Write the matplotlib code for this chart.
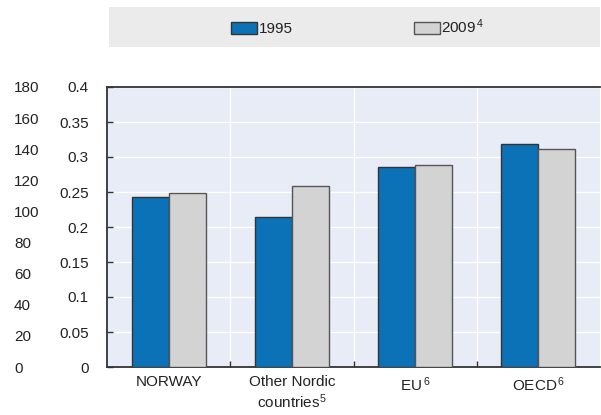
import numpy as np
import matplotlib
matplotlib.use("Agg")
import matplotlib.pyplot as plt
from matplotlib.patches import Rectangle

plt.rcParams['font.family'] = ['Liberation Sans', 'DejaVu Sans']
plt.rcParams['mathtext.default'] = 'regular'

# data
categories = ['NORWAY', 'Other Nordic\ncountries$^{5}$', 'EU$^{\\,6}$', 'OECD$^{\\,6}$']
values_1995 = [0.243, 0.214, 0.286, 0.318]
values_2009 = [0.248, 0.258, 0.288, 0.312]
series_labels = ['1995', '2009$^{\\,4}$']
left_ticks = [0, 0.05, 0.1, 0.15, 0.2, 0.25, 0.3, 0.35, 0.4]
outer_ticks = [0, 20, 40, 60, 80, 100, 120, 140, 160, 180]

blue = '#0b72b8'
grey = '#d3d3d3'
txt = '#222222'
fs = 11

fig = plt.figure(figsize=(6.01, 4.15), dpi=100)
ax = fig.add_axes([107 / 601, 48 / 415, 493 / 601, 280 / 415])
ax.set_facecolor('#e8ecf6')

x = np.arange(len(categories))
w = 0.3
b1 = ax.bar(x - w / 2, values_1995, w, color=blue, edgecolor='#333333',
            linewidth=1, zorder=3, label=series_labels[0])
b2 = ax.bar(x + w / 2, values_2009, w, color=grey, edgecolor='#555555',
            linewidth=1, zorder=3, label=series_labels[1])

ax.set_xlim(-0.5, len(categories) - 0.5)
ax.set_ylim(0, 0.4)
ax.set_yticks(left_ticks)
ax.set_yticklabels([f'{v:g}' for v in left_ticks])
ax.set_xticks(x)
ax.set_xticklabels(categories)
ax.set_xticks(x[:-1] + 0.5, minor=True)

ax.grid(True, axis='y', color='white', linewidth=1, zorder=0)
ax.grid(True, axis='x', which='minor', color='white', linewidth=1, zorder=0)

ax.tick_params(axis='y', direction='in', length=4, width=1, color='#333333',
               labelsize=fs, labelcolor=txt, pad=13)
ax.tick_params(axis='x', which='major', length=0, labelsize=fs,
               labelcolor=txt, pad=6)
ax.tick_params(axis='x', which='minor', direction='in', length=4, width=1,
               color='#333333')

for s in ['left', 'bottom', 'top']:
    ax.spines[s].set_color('#333333')
    ax.spines[s].set_linewidth(1.3)
ax.spines['right'].set_visible(False)

# outer scale on the far left
ax2 = ax.twinx()
ax2.set_ylim(0, 180)
ax2.set_yticks(outer_ticks)
ax2.yaxis.set_ticks_position('left')
ax2.yaxis.set_label_position('left')
ax2.tick_params(axis='y', length=0, labelsize=fs, labelcolor=txt, pad=67)
for lab in ax2.get_yticklabels():
    lab.set_horizontalalignment('left')
for s in ax2.spines.values():
    s.set_visible(False)

# legend box on top
fig.patches.append(Rectangle((109 / 601, 1 - 47 / 415), 491 / 601, 40 / 415,
                             transform=fig.transFigure, facecolor='#ebebeb',
                             edgecolor='none', zorder=0))
fig.legend([b1, b2], series_labels, loc='center',
           bbox_to_anchor=(358 / 601, 1 - 27 / 415), ncol=2, frameon=False,
           fontsize=fs, handlelength=1.7, handleheight=0.75,
           handletextpad=0.1, columnspacing=7.9, labelcolor=txt)

fig.savefig('out.png', dpi=100)
